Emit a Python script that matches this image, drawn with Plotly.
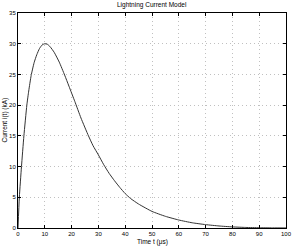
import plotly.graph_objects as go

t_us = [0, 0.5, 1.3, 2.2, 3.3, 4, 4.9, 6, 7, 8, 9, 10, 11, 12, 13.5, 15.4, 17.4, 19, 21.2,
        23.5, 26.3, 28, 30, 32, 34, 36, 38, 40, 42, 45, 50, 55, 60, 65, 70, 75, 80, 85,
        90, 95, 100]
current_kA = [0, 5, 10, 15, 20, 22.3, 24.8, 26.9, 28.2, 29.2, 29.8, 30, 29.9, 29.5, 28.6,
              27, 24.9, 23.1, 20.6, 17.9, 15, 13.4, 11.9, 10.3, 8.9, 7.7, 6.6, 5.6, 4.8,
              3.9, 2.7, 1.9, 1.3, 0.85, 0.55, 0.33, 0.18, 0.09, 0.04, 0.02, 0.01]
x_ticks = [0, 10, 20, 30, 40, 50, 60, 70, 80, 90, 100]
y_ticks = [0, 5, 10, 15, 20, 25, 30, 35]

fig = go.Figure()
fig.add_trace(go.Scatter(x=t_us, y=current_kA, mode="lines",
                         line=dict(color="#333333", width=1, shape="spline", smoothing=0.5),
                         hoverinfo="skip"))

axis_common = dict(showline=True, linecolor="black", linewidth=1, mirror="ticks",
                   ticks="inside", ticklen=3, tickcolor="black",
                   showgrid=True, gridcolor="#c0c0c0", griddash="1px,3px", gridwidth=1,
                   zeroline=False, tickfont=dict(size=6, family="Liberation Sans", color="black"))

fig.update_xaxes(range=[0, 100], tickvals=x_ticks, **axis_common)
fig.update_yaxes(range=[0, 35], tickvals=y_ticks, **axis_common)

fig.update_layout(
    width=300, height=246,
    margin=dict(l=18, r=8, t=13, b=18),
    paper_bgcolor="white", plot_bgcolor="white",
    showlegend=False,
    font=dict(family="Liberation Sans", size=6, color="black"),
    annotations=[
        dict(text="Lightning Current Model", x=0.5, y=1, xref="paper", yref="paper",
             yanchor="bottom", yshift=2, showarrow=False, font=dict(size=6.5)),
        dict(text="Time t (μs)", x=0.5, y=0, xref="paper", yref="paper",
             yanchor="top", yshift=-8, showarrow=False, font=dict(size=6.5)),
        dict(text="Current i(t) (kA)", x=0, y=0.5, xref="paper", yref="paper",
             xanchor="right", xshift=-8, textangle=-90, showarrow=False, font=dict(size=6.5)),
    ],
)

fig.write_html("out.html", config={"displayModeBar": False},
               post_script="document.body.style.margin='0';document.body.style.padding='0';")
